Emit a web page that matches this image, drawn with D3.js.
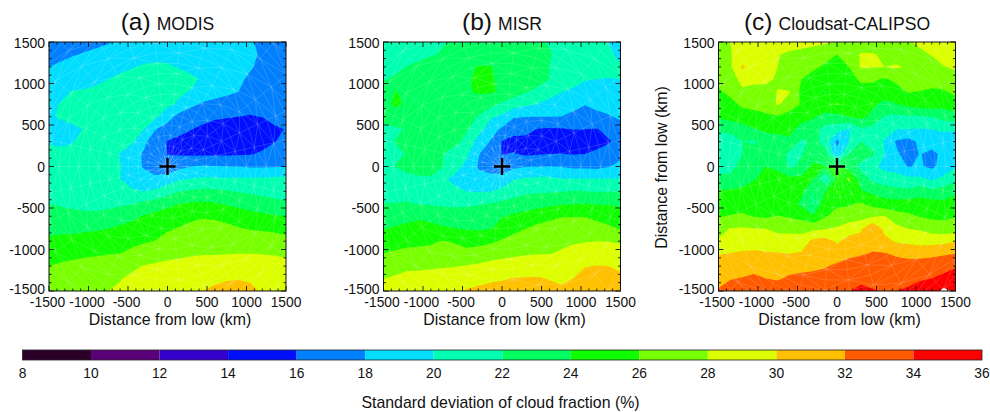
<!DOCTYPE html>
<html><head><meta charset="utf-8">
<script src="https://cdn.jsdelivr.net/npm/d3@7"></script>
<style>
html,body{margin:0;padding:0;background:#fff;width:990px;height:412px;overflow:hidden}
svg{display:block}
text{font-family:"Liberation Sans",Arial,sans-serif;fill:#111}
</style></head><body>
<svg id="chart" width="990" height="412"></svg>
<script>
const levels=[8,10,12,14,16,18,20,22,24,26,28,30,32,34,36];
const levelColors=["#2a0028","#5a0078","#3300cc","#0010ff","#0080ff","#00ddff","#00ffb0","#00ff60","#10ff00","#78ff00","#dcff00","#ffc000","#ff5a00","#ff0000","#ffffff"];
const gridKm=[-1500,-1350,-1200,-1050,-900,-750,-600,-450,-300,-150,0,150,300,450,600,750,900,1050,1200,1350,1500];
const axisTicks=[-1500,-1000,-500,0,500,1000,1500];
const barTicks=[8,10,12,14,16,18,20,22,24,26,28,30,32,34,36];

// rows run from +1500 km (top) to -1500 km (bottom)
const modisValues=[
[17,17.3,17.5,17.6,17.7,17.9,18.2,18.5,18.7,18.8,18.9,18.9,18.8,18.7,18.6,18.5,18.3,18.1,17.8,17.5,17.3],
[17.3,17.6,17.9,18.1,18.3,18.5,18.8,19.1,19.4,19.5,19.5,19.4,19.2,19,18.8,18.6,18.3,18.3,17.8,17.4,17.2],
[18,18.3,18.6,18.9,19.1,19.3,19.6,19.9,20.2,20.3,20.2,19.9,19.6,19.3,19,18.7,18.4,18.1,17.7,17.4,17.2],
[18.6,18.9,19.2,19.6,19.7,20,20.4,20.6,20.8,20.8,20.8,20.6,20.3,19.8,19.3,18.8,18.2,17.8,17.5,17.2,17],
[19.2,19.6,20.1,20.1,20.3,20.5,20.8,21,21,20.9,20.6,20.3,19.9,19.4,19,18.5,18,17.6,17.2,17,16.9],
[19.5,20.1,20.5,20.7,20.9,21.1,21.3,21.4,21.3,20.9,20.4,19.7,18.4,17.7,17.2,16.9,16.6,16.5,16.5,16.7,16.9],
[19.8,20.2,20.6,20.9,21,21.2,21.3,21.2,20.9,20.3,18.7,17.3,16.9,16.6,16.3,16.15,16,15.9,16.05,16.4,16.7],
[19.2,19.4,19.6,20.1,20.7,21,21.1,20.9,20.05,18.05,17.3,16.6,16.05,15.6,15.2,15,14.9,14.8,15,15.8,16.05],
[19.9,19.7,19.9,20.5,20.9,21.1,20.9,20.3,18.4,17,15.9,15.5,15.2,14.9,14.7,14.6,14.5,14.5,15.5,15.95,16.3],
[20.3,20.4,20.6,20.8,20.9,20.5,19.9,18.8,17.8,16.9,15.95,15.8,15.7,15.7,15.7,15.75,15.8,15.9,16.2,16.7,17.1],
[21,21,21,21,21,20.7,20.1,19,17.8,16.8,16.6,17.5,18,18.2,18.1,18,17.95,17.8,17.8,17.85,18],
[21.2,21.2,21.1,21,20.9,20.6,20,19.4,18.8,18.5,19,19.8,20.1,20.3,20.3,20.2,20.2,20.3,20.3,20.4,20.5],
[21.5,21.5,21.4,21.3,21.2,21,20.7,20.2,20,20.3,21.2,21.95,22.3,22.5,22.4,22.15,21.9,21.75,21.6,21.5,21.4],
[22,21.85,21.75,21.6,21.5,21.5,21.7,21.95,22.5,23,23.5,24,24.2,24.3,24.15,23.8,23.4,23,22.7,22.4,22.2],
[22.6,22.5,22.4,22.3,22.4,22.7,23.2,23.6,24.1,24.6,25,25.3,25.6,25.8,25.7,25.5,25.2,24.8,24.5,24.2,23.95],
[23.5,23.5,23.5,23.6,23.8,24,24.3,24.6,25,25.4,25.8,26.1,26.5,26.8,26.7,26.4,26.1,25.9,25.8,25.7,25.5],
[24.4,24.6,24.7,24.9,25.1,25.3,25.5,25.7,25.85,26.05,26.6,27,27.4,27.6,27.6,27.4,27.2,27,26.9,26.7,26.5],
[25.3,25.5,25.6,25.7,25.8,25.9,26,26.3,26.7,27.1,27.4,27.6,27.8,27.9,27.9,27.95,28,28,27.95,27.9,27.8],
[26,26.2,26.4,26.6,26.8,27,27.3,27.6,28.1,28.3,28.5,28.6,28.7,28.8,28.9,29,29,29,28.8,28.6,28.4],
[26.7,26.8,27,27.2,27.4,27.6,27.9,28.4,28.8,29,29.2,29.4,29.6,29.7,29.8,29.9,29.95,29.9,29.8,29.6,29.3],
[27,27.2,27.4,27.6,27.8,28,28.3,28.7,29.1,29.4,29.6,29.8,29.9,30,30.2,30.4,30.5,30.2,29.9,29.7,29.5]];

const misrValues=[
[20.5,20.8,21.1,21.4,21.7,21.95,22.05,22.3,22.5,22.6,22.6,22.6,22.4,22.1,21.95,21.5,21.2,20.9,20.5,19.95,19.3],
[20.8,21.1,21.4,21.7,21.9,22.1,22.4,22.8,23,23,23.1,23.1,22.9,22.4,22.05,21.8,21.7,21.2,20.8,20.3,19.6],
[21.5,21.7,22.05,22.3,22.6,22.9,23.2,23.6,24.1,24.1,23.6,23.3,23,22.6,22,21.7,21.5,21.1,20.7,20.4,20.2],
[21.9,22.2,22.6,23,23.4,23.5,23.6,23.8,24.3,24.2,23.6,23.2,22.9,22.6,22,21.3,20.8,20.1,20,19.95,20],
[23.2,24.02,23.9,23.7,23.7,24,23.6,23.8,24.2,24.2,23.8,22.8,22.15,21.6,21,20.05,19.6,19.3,19.2,19.2,19.3],
[23.5,24.3,23.8,23.5,23.4,23.4,23.3,23.2,23,22.6,21.7,21,20.3,19.95,19.2,18.8,18.5,18.05,18.3,18.4,18.5],
[22.8,22.9,23,23.1,23.1,23.1,23,22.7,21.9,20.4,19.6,18.15,18.03,18,18,17.98,17.6,17.4,17.7,17.9,18.2],
[21.4,21.8,22.1,22.5,22.7,22.8,22.6,22.2,20.9,18.8,17.7,16.6,16.4,15.95,15.8,15.85,16.02,16.02,15.9,16.6,17.5],
[21.6,22.05,22.4,22.6,22.6,22.5,22.4,21.6,19.2,17.95,15.9,15.5,15.6,15.4,15.2,15.1,15.1,15,15.1,15.8,16.7],
[21.4,21.7,22.1,22.4,22.5,22.05,21.4,20.4,18.1,17.1,15.95,16.1,15.7,15.9,16,16.05,15.9,16,16.5,17,17.6],
[21.7,22.05,22.4,22.6,22.6,22.05,20.7,19.5,17.9,17.2,16.9,17.6,17.9,17.95,18,17.9,17.6,17.6,17.5,17.9,18.4],
[21,21.2,21.6,21.8,21.85,20.25,19.6,19,18.3,18.6,18.8,19.9,20.2,20.4,20.35,20.1,20.1,20.1,20.1,20.1,20.1],
[21.5,21.5,21.6,21.5,21.4,21.1,20.4,20,19.9,19.95,20.5,21.1,21.6,21.75,21.8,21.9,22.1,22.05,21.9,21.95,22.02],
[22.02,22.05,22.1,21.95,21.8,21.7,21.7,21.8,21.9,22.1,22.5,22.9,23.2,23.4,23.6,23.85,23.95,24,23.9,23.9,23.7],
[23.1,23.2,23.4,23.7,23.5,23,22.8,22.6,22.8,23.2,23.9,24.3,24.6,25,25.4,25.9,25.9,25.9,25.4,25.1,24.9],
[23.95,24.2,24.5,24.7,24.5,24.3,24.05,23.9,23.8,23.9,24.7,25.4,26,26.6,27,27.2,27.3,27.3,27,26.4,25.9],
[24.9,25.2,25.6,25.6,25.7,26.1,25.8,25.2,25.4,25.7,26.2,26.8,27.2,27.5,27.4,27.6,27.8,27.9,28,27.95,27.8],
[26.02,26.3,26.4,26.5,26.7,26.9,26.9,26.7,26.8,27.1,27.4,27.6,27.8,27.9,27.95,28.2,28.6,28.9,29.1,29.1,28.8],
[26.8,27.2,27.6,27.6,27.7,27.8,27.9,28.1,28.3,28.7,28.9,29.1,29.3,29.4,29.4,29.3,29.5,29.9,30.05,30,29.7],
[27.95,28.3,28.6,28.7,28.9,29.1,29.3,29.5,29.6,29.8,29.9,30.05,30.1,30.1,29.95,29.8,30,30.8,31,30.7,30.3],
[28.4,28.8,29,29.2,29.3,29.5,29.8,30.1,30.3,30.4,30.5,30.6,30.6,30.5,30.4,30.2,30.4,30.9,31.2,31,30.7]];

const cloudsatValues=[
[27,28,28.5,28.8,29,29,29,28.8,28.6,28.3,27.9,27.6,27.4,27.3,27.3,27.4,27.8,28.4,28.8,29.2,29.5],
[26.8,27.9,28.8,29,28.7,28.1,27.6,27.3,27,26.5,26,27.2,28.1,28.1,27.8,27.3,27.2,27.6,28.1,29,29.4],
[26.6,27.7,30.3,29.2,28.5,28,27.3,26.7,26.2,25.8,25.3,26,28.2,28.1,28,28.2,27.8,27.3,27.3,27.9,28.3],
[26.3,27.2,28.5,28.8,28.5,27.7,26.7,26,25.6,25.3,24.9,25.5,26.2,26.3,25.8,26.3,27,28,27.3,26.8,27.2],
[25.8,26.4,27.7,26.9,27.2,28.1,28.1,25.5,24.2,23.9,24.8,25,25.5,25.2,25,25.4,26.1,25.9,25.5,25.8,26.4],
[25.1,25.5,26.3,26.5,27,28.2,27.2,25.8,25,25.4,26.2,25.5,25,24.3,23.5,23.9,24.6,25,25,24.7,25.2],
[24.3,24.7,25.2,25.4,25.6,25.8,25,24.5,24.2,23.3,23.3,24,24.5,23.5,21.8,21.6,21.7,21.8,22,22.8,23.2],
[22.3,22.5,23.1,23.9,24.3,24.2,24.3,23.6,23,21.3,21,19.8,21.7,21.5,20.6,20,20,19.9,20,20.3,20.1],
[21,21.2,22,21.7,23.2,23.7,23.8,21.6,22.4,21.5,17.5,20,22,21.5,19.9,17.8,17.3,18.4,19,19,19.5],
[21,21.3,22,23.4,23.6,23.2,21.5,21.9,23,22.5,18.7,22,22.9,22.2,20,18.3,17.2,18.1,17.4,18.6,19.2],
[21.5,21.6,22.5,23.6,24,23.6,21.6,22.5,24.5,24,24,23.2,21.5,20.5,19.5,19,17.9,18.2,17.6,18.7,19.8],
[22.3,22.3,23,23.9,24.6,24.7,24.5,24.6,24,20.5,24.4,26.5,23.2,21.5,21,20.9,20.5,20.4,19.7,20.5,21.5],
[24.2,24.4,24.5,24.7,24.7,24.3,24.2,24.5,22,24,26.2,24.3,24.2,23.6,23,22.5,22.4,23.2,22.5,23,23.6],
[24.6,25.2,25,25.2,25.2,24.5,24.9,23.6,21.7,25.3,25.5,25.8,26.2,25.4,24.8,24.8,24.9,24.8,24.9,24.4,25],
[25.9,26.1,26.4,25.9,25.7,26.1,25.8,25.4,24.2,25.8,27,26.8,27.2,27.8,28.1,26.8,26.4,25.9,25.6,25.6,25.9],
[27.3,28.1,28.2,28.1,28,27.5,27.4,27.3,27.6,27.9,28.2,29.2,29.7,32.1,29.5,28.6,28,27.8,27.2,26.9,26.9],
[28.2,28.3,28.9,29.2,29.1,28.9,29,29,30.5,30.8,29.8,30.6,30.7,31.1,30.6,29.8,29.6,29.3,29.3,29.5,29.9],
[29.9,30.1,30.3,30.3,30.2,30.1,30,30.2,30.8,30.9,30.8,31.4,31.8,32.2,32.1,31.8,31.4,31.4,31.6,31.8,32],
[30.9,31.1,31.2,31.3,31.4,31.3,31.3,31.3,31.5,31.8,32.4,33,33.2,33.2,33,32.6,32.8,32.9,32.9,33.2,33.8],
[31.7,31.9,32.1,32.4,32,31.8,32.3,32.6,32.7,33,33.1,33.1,33.5,33.6,33.3,33.2,33.6,33.9,34,34.6,35],
[32.1,32.7,33,33.1,33,33.1,33.3,33.4,33.5,33.6,33.7,33.9,34.5,34.1,33.9,34,34.2,34.4,34.9,36.5,35.6]];

const panelTitles=["(a)","(b)","(c)"];
const panelNames=["MODIS","MISR","Cloudsat-CALIPSO"];
const panelValues=[modisValues,misrValues,cloudsatValues];
const panelLeft=[49,383.5,718.5];
const axisLabel="Distance from low (km)";
const barLabel="Standard deviation of cloud fraction (%)";

const plotW=237,plotH=249,plotTop=42;
const svg=d3.select("#chart");
const defs=svg.append("defs");
const step=gridKm[1]-gridKm[0];

panelValues.forEach((rows,p)=>{
  const left=panelLeft[p];
  const g=svg.append("g").attr("transform",`translate(${left},${plotTop})`);
  const x=d3.scaleLinear().domain([-1500,1500]).range([0,plotW]);
  const y=d3.scaleLinear().domain([1500,-1500]).range([0,plotH]);
  defs.append("clipPath").attr("id","clip"+p).append("rect").attr("width",plotW).attr("height",plotH);
  const body=g.append("g").attr("clip-path",`url(#clip${p})`);
  const nx=gridKm.length,ny=rows.length;
  const contours=d3.contours().size([nx,ny]).thresholds(levels)(rows.flat());
  const proj=d3.geoTransform({point(px,py){
    this.stream.point(x((px-0.5)*step+gridKm[0]),y(1500-(py-0.5)*step));
  }});
  const path=d3.geoPath(proj);
  body.selectAll("path.band").data(contours).join("path").attr("class","band")
    .attr("d",path).attr("fill",d=>levelColors[levels.indexOf(d.value)]).attr("stroke","none");

  // polar mesh of the composite's sampling grid
  const radii=d3.range(0,2400,125);
  const spokeStep=12;
  const spokes=d3.range(0,360,spokeStep);
  const pt=(r,a)=>[x(r*Math.cos(a*Math.PI/180)),y(r*Math.sin(a*Math.PI/180))];
  const seg=[];
  radii.forEach((r,i)=>{ if(i===0)return;
    spokes.forEach((a,j)=>{
      const b=a+spokeStep;
      seg.push([pt(r,a),pt(r,b)]);
      const rp=radii[i-1];
      seg.push([pt(rp,a),pt(r,a)]);
      seg.push((i+j)%2? [pt(rp,a),pt(r,b)] : [pt(r,a),pt(rp,b)]);
    });
  });
  body.append("path").attr("d",seg.map(s=>`M${s[0]}L${s[1]}`).join(""))
    .attr("fill","none").attr("stroke","#fff").attr("stroke-width",0.5).attr("stroke-opacity",0.3);

  // low-pressure centre marker
  body.append("path").attr("d",`M${x(0)-8},${y(0)}H${x(0)+8}M${x(0)},${y(0)-8.5}V${y(0)+8.5}`)
    .attr("stroke","#000").attr("stroke-width",2.4).attr("fill","none");

  // frame and ticks on all four sides
  const frame=g.append("g");
  frame.append("rect").attr("width",plotW).attr("height",plotH).attr("fill","none").attr("stroke","#111").attr("stroke-width",1);
  const minor=d3.range(-1500,1501,100).filter(v=>!axisTicks.includes(v));
  const tk=[];
  [[axisTicks,5],[minor,2.5]].forEach(([vals,len])=>vals.forEach(v=>{
    tk.push(`M${x(v)},${plotH}v${-len}M${x(v)},0v${len}M0,${y(v)}h${len}M${plotW},${y(v)}h${-len}`);
  }));
  frame.append("path").attr("d",tk.join("")).attr("stroke","#111").attr("stroke-width",0.9).attr("fill","none");

  g.selectAll("text.xt").data(axisTicks).join("text").attr("class","xt")
    .attr("x",d=>x(d)-(d<0?1.5:0)).attr("y",plotH+16).attr("text-anchor","middle").attr("font-size",13.8).text(d=>d);
  g.selectAll("text.yt").data(axisTicks).join("text").attr("class","yt")
    .attr("x",-4).attr("y",d=>y(d)+(d===1500?6:d===-1500?3:5)).attr("text-anchor","end").attr("font-size",14).text(d=>d);
  g.append("text").attr("x",plotW/2+2.5).attr("y",plotH+33.5).attr("text-anchor","middle").attr("font-size",15.9).text(axisLabel);

  const t=g.append("text").attr("x",plotW/2).attr("y",-12).attr("text-anchor","middle");
  t.append("tspan").attr("font-size",24.5).text(panelTitles[p]);
  t.append("tspan").attr("font-size",17.6).attr("dx",6).text(panelNames[p]);

  if(p===2){
    g.append("text").attr("transform",`translate(-52,${plotH/2+1}) rotate(-90)`).attr("text-anchor","middle").attr("font-size",15.9).text(axisLabel);
  }
});

// colour bar
const barX=d3.scaleLinear().domain([8,36]).range([22.5,982]);
const barTop=350,barH=10;
const bar=svg.append("g");
bar.selectAll("rect.swatch").data(d3.pairs(barTicks)).join("rect").attr("class","swatch")
  .attr("x",d=>barX(d[0])).attr("y",barTop).attr("width",d=>barX(d[1])-barX(d[0])).attr("height",barH)
  .attr("fill",(d,i)=>levelColors[i]);
bar.append("rect").attr("x",barX(8)).attr("y",barTop).attr("width",barX(36)-barX(8)).attr("height",barH)
  .attr("fill","none").attr("stroke","#222").attr("stroke-width",0.8);
bar.selectAll("text.bt").data(barTicks).join("text").attr("class","bt")
  .attr("x",d=>barX(d)).attr("y",378).attr("text-anchor","middle").attr("font-size",13.8).text(d=>d);
bar.append("text").attr("x",500.5).attr("y",407.5).attr("text-anchor","middle").attr("font-size",15.9).text(barLabel);
</script>
</body></html>
